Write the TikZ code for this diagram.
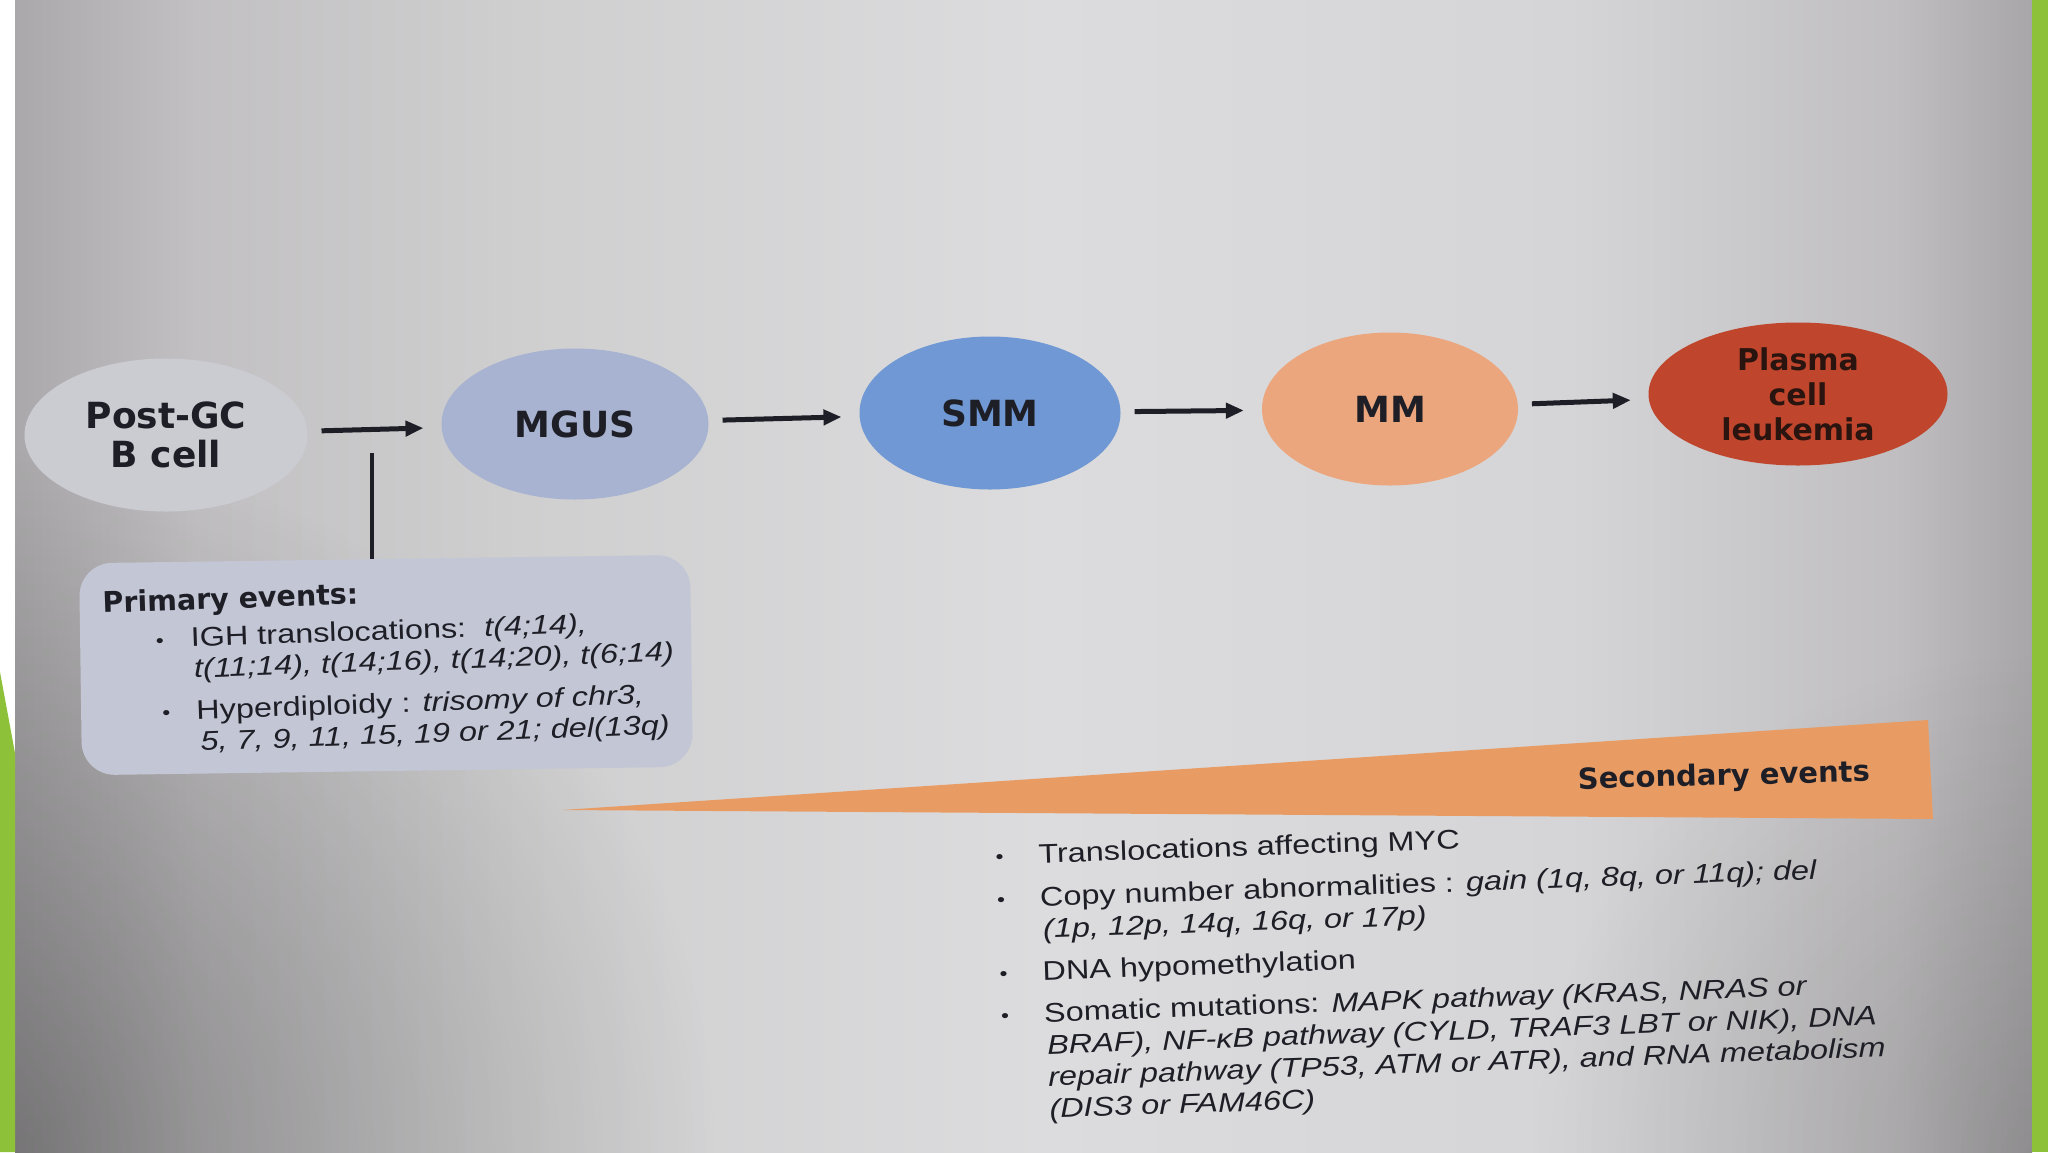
\documentclass[tikz,border=0pt]{standalone}
\usepackage{fontspec}
\setmainfont{Liberation Sans}
\newfontfamily\labfont{DejaVu Sans}
\newfontfamily\secbodyfont[FakeStretch=1.2]{Liberation Sans}
\usetikzlibrary{shapes.geometric,arrows.meta,fadings}
\definecolor{bgA}{HTML}{AAA8AA}
\definecolor{bgB}{HTML}{C2C0C2}
\definecolor{bgC}{HTML}{CFCFD0}
\definecolor{bgD}{HTML}{DCDCDE}
\definecolor{bgE}{HTML}{D5D5D7}
\definecolor{bgF}{HTML}{C0BEC0}
\definecolor{bgG}{HTML}{A8A6A8}
\definecolor{greenC}{HTML}{8DC13A}
\definecolor{pgcC}{HTML}{CBCBD2}
\definecolor{mgusC}{HTML}{A7B3D1}
\definecolor{smmC}{HTML}{6F98D4}
\definecolor{mmC}{HTML}{EBA67E}
\definecolor{pclC}{HTML}{BF462C}
\definecolor{pclTxt}{HTML}{2A1410}
\definecolor{primC}{HTML}{C3C6D5}
\definecolor{wedgeC}{HTML}{E89C64}
\definecolor{txtC}{HTML}{1E1E26}
\pgfdeclarehorizontalshading{bgshade}{100bp}{color(0bp)=(bgA); color(25bp)=(bgA);
  color(29.5bp)=(bgB); color(37.6bp)=(bgC); color(50.5bp)=(bgD); color(63.5bp)=(bgE);
  color(71.6bp)=(bgF); color(75bp)=(bgG); color(100bp)=(bgG)}
\tikzfading[name=cornerfade, inner color=transparent!0, outer color=transparent!100]
\newcommand{\smallbul}{\raisebox{1pt}{\scalebox{0.7}{•}}}
\begin{document}
\begin{tikzpicture}[x=1pt,y=-1pt,
  cell/.style={ellipse, inner sep=0pt, text=txtC, align=center,
    font=\labfont\bfseries\fontsize{36}{39}\selectfont},
  flow/.style={line width=5pt, draw=txtC, -{Triangle[length=18pt,width=15pt]},
    shorten <=14pt, shorten >=18pt}]
\useasboundingbox (0,0) rectangle (2048,1152);
\fill[white] (0,0) rectangle (2048,1152);
\begin{scope}
\clip (15,0) rectangle (2032,1152);
\shade[shading=bgshade] (15,0) rectangle (2032,1152);
\fill[black, opacity=0.3, path fading=cornerfade] (15,1152) circle (700pt);
\fill[black, opacity=0.15, path fading=cornerfade] (2032,1152) circle (500pt);
\end{scope}
\fill[greenC] (2032,0) rectangle (2048,1152);
\fill[greenC] (0,672) -- (15,753) -- (15,1152) -- (0,1152) -- cycle;

% stage nodes
\node[cell, fill=pgcC, minimum width=283pt, minimum height=153pt] (pgc) at (166,435) {Post-GC\\B cell};
\node[cell, fill=mgusC, minimum width=267pt, minimum height=151pt] (mgus) at (575,424) {MGUS};
\node[cell, fill=smmC, minimum width=261pt, minimum height=153pt] (smm) at (990,413) {SMM};
\node[cell, fill=mmC, minimum width=256pt, minimum height=153pt] (mm) at (1390,409) {MM};
\node[cell, fill=pclC, minimum width=299pt, minimum height=143pt,
  font=\labfont\bfseries\fontsize{30}{35}\selectfont, text=pclTxt] (pcl) at (1798,394) {Plasma\\cell\\leukemia};

\draw[flow] (pgc) -- (mgus);
\draw[flow] (mgus) -- (smm);
\draw[flow] (smm) -- (mm);
\draw[flow] (mm) -- (pcl);

% primary events
\node[fill=primC, rounded corners=33pt, minimum width=611pt, minimum height=212pt,
  inner sep=0pt, rotate=0.8] (prim) at (386,665) {};
\coordinate (vt) at (372,453);
\draw[line width=4pt, draw=txtC] (vt) -- (vt |- prim.north);
\node[anchor=north west, rotate=2, align=left, inner sep=0pt, text=txtC,
  font=\secbodyfont\fontsize{27}{31}\selectfont] (ptxt) at (102,591) {%
{\labfont\bfseries\fontsize{28.5}{31}\selectfont Primary events:}\\[6pt]
\makebox[87pt][l]{\hspace{52pt}\smallbul}IGH translocations:\ \ \textit{t(4;14),}\\
\hspace*{89pt}\textit{t(11;14), t(14;16), t(14;20), t(6;14)}\\[11pt]
\makebox[90pt][l]{\hspace{56pt}\smallbul}Hyperdiploidy : \textit{trisomy of chr3,}\\
\hspace*{93pt}\textit{5, 7, 9, 11, 15, 19 or 21; del(13q)}};

% secondary events wedge
\fill[wedgeC] (562,810) -- (1928,720) -- (1933,819) -- cycle;
\node[anchor=base west, rotate=1.5, inner sep=0pt, text=txtC,
  font=\labfont\bfseries\fontsize{29}{29}\selectfont] (seclab) at (1578,789) {Secondary events};

\node[anchor=north west, rotate=2, align=left, inner sep=0pt, text=txtC,
  font=\secbodyfont\fontsize{27}{32}\selectfont] (stxt) at (995,845) {%
\makebox[43pt][l]{\smallbul}Translocations affecting MYC\\[11pt]
\makebox[43pt][l]{\smallbul}Copy number abnormalities : \textit{gain (1q, 8q, or 11q); del}\\
\hspace*{45pt}\textit{(1p, 12p, 14q, 16q, or 17p)}\\[10pt]
\makebox[43pt][l]{\smallbul}DNA hypomethylation\\[10pt]
\makebox[43pt][l]{\smallbul}Somatic mutations: \textit{MAPK pathway (KRAS, NRAS or}\\
\hspace*{45pt}\textit{BRAF), NF-κB pathway (CYLD, TRAF3 LBT or NIK), DNA}\\
\hspace*{45pt}\textit{repair pathway (TP53, ATM or ATR), and RNA metabolism}\\
\hspace*{45pt}\textit{(DIS3 or FAM46C)}};
\end{tikzpicture}
\end{document}
